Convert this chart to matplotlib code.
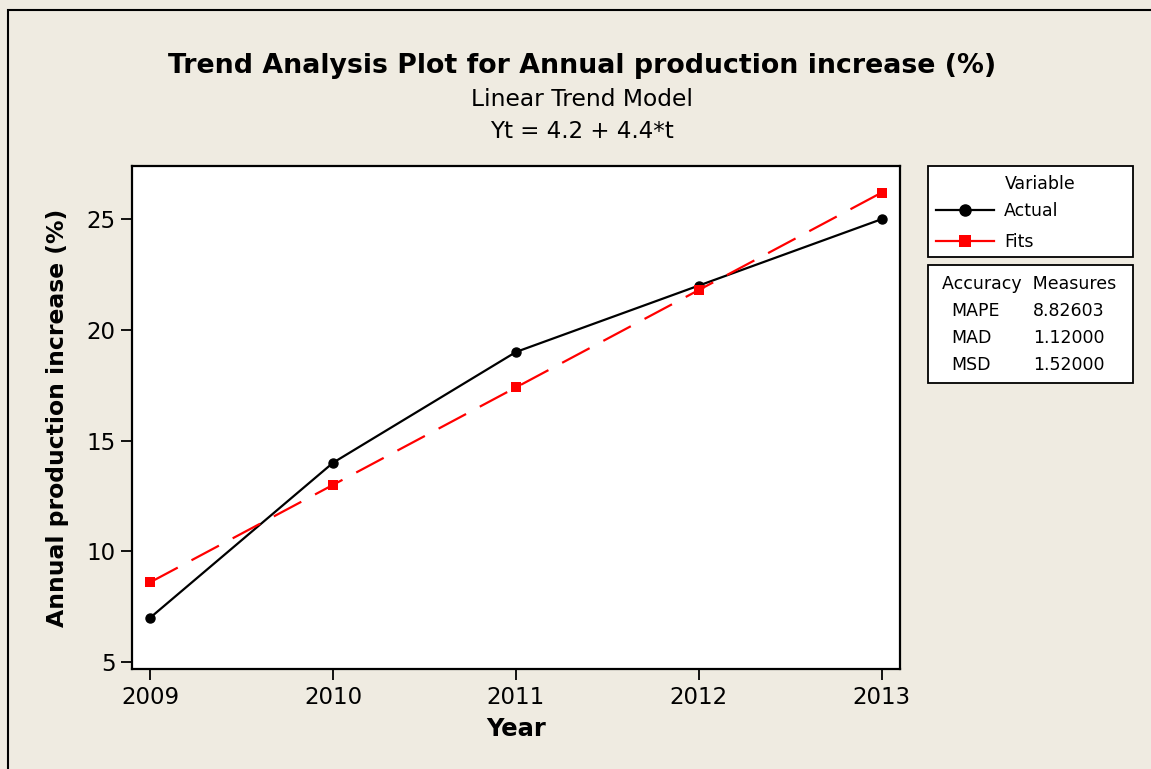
import matplotlib.pyplot as plt
from matplotlib.lines import Line2D
from matplotlib.patches import Rectangle

# data
years = [2009, 2010, 2011, 2012, 2013]
actual = [7, 14, 19, 22, 25]
fits = [8.6, 13.0, 17.4, 21.8, 26.2]
measure_names = ['MAPE', 'MAD', 'MSD']
measure_values = ['8.82603', '1.12000', '1.52000']

W, H = 1151, 769
bg = '#efebe1'
plt.rcParams['font.family'] = ['DejaVu Sans']

fig = plt.figure(figsize=(W / 100, H / 100), dpi=100, facecolor=bg)

def fx(px):  # pixel -> figure coords
    return px / W

def fy(py):
    return 1 - py / H

# outer border (right/bottom run off the picture)
fig.patches.append(Rectangle((fx(8), fy(H + 20)), fx(W + 30), fy(10) - fy(H + 20),
                             transform=fig.transFigure, fill=False,
                             edgecolor='black', linewidth=1.5))

ax = fig.add_axes([fx(132), fy(669), fx(900) - fx(132), fy(166) - fy(669)])
ax.set_facecolor('white')
ax.plot(years, actual, color='black', lw=1.6, marker='o', ms=6.5, label='Actual')
ax.plot(years, fits, color='red', lw=1.6, ls=(0, (14, 7)), marker='s', ms=6.5,
        markeredgewidth=0, label='Fits')

ax.set_xlim(2008.9, 2013.1)
ax.set_ylim(4.68, 27.4)
ax.set_xticks(years)
ax.set_yticks([5, 10, 15, 20, 25])
ax.tick_params(direction='out', length=8, width=1.3, labelsize=16.5, pad=4)
for s in ax.spines.values():
    s.set_linewidth(1.6)
ax.set_xlabel('Year', fontsize=17.5, fontweight='bold', labelpad=6)
ax.set_ylabel('Annual production increase (%)', fontsize=16.9, fontweight='bold', labelpad=12)

# titles
fig.text(fx(582), fy(66), 'Trend Analysis Plot for Annual production increase (%)',
         ha='center', va='center', fontsize=19.3, fontweight='bold')
fig.text(fx(582), fy(99), 'Linear Trend Model', ha='center', va='center', fontsize=16.8)
fig.text(fx(582), fy(132), 'Yt = 4.2 + 4.4*t', ha='center', va='center', fontsize=16.6)

# legend box
fig.patches.append(Rectangle((fx(928), fy(257)), fx(1133) - fx(928), fy(166) - fy(257),
                             transform=fig.transFigure, facecolor='white',
                             edgecolor='black', linewidth=1.3))
fig.text(fx(1040), fy(184), 'Variable', ha='center', va='center', fontsize=12.5)
handles = [Line2D([], [], color='black', lw=1.6, marker='o', ms=8),
           Line2D([], [], color='red', lw=1.6, marker='s', ms=8, markeredgewidth=0)]
fig.legend(handles, ['Actual', 'Fits'], loc='upper left',
           bbox_to_anchor=(fx(933), fy(199)), frameon=False, fontsize=12.5,
           handlelength=3.3, handletextpad=0.6, labelspacing=0.75, borderaxespad=0,
           borderpad=0.2)

# accuracy measures box
fig.patches.append(Rectangle((fx(928), fy(383)), fx(1133) - fx(928), fy(265) - fy(383),
                             transform=fig.transFigure, facecolor='white',
                             edgecolor='black', linewidth=1.3))
fig.text(fx(1029), fy(284), 'Accuracy  Measures', ha='center', va='center', fontsize=12.5)
for i, (n, v) in enumerate(zip(measure_names, measure_values)):
    yy = fy(311 + i * 27)
    fig.text(fx(951), yy, n, ha='left', va='center', fontsize=12.5)
    fig.text(fx(1105), yy, v, ha='right', va='center', fontsize=12.5)

fig.savefig('out.png', dpi=100, facecolor=bg)
